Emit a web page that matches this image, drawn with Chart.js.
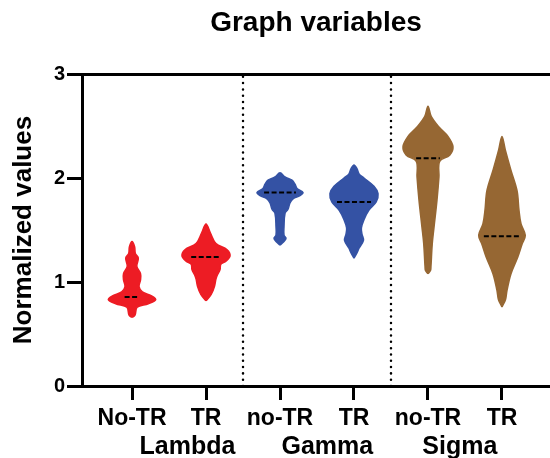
<!DOCTYPE html>
<html>
<head>
<meta charset="utf-8">
<script src="https://cdn.jsdelivr.net/npm/chart.js@4.4.1/dist/chart.umd.min.js"></script>
<style>
  html, body { margin: 0; padding: 0; background: #fff; }
</style>
</head>
<body>
<canvas id="violinChart" width="550" height="458"></canvas>
<script>
// categories and tick labels
const categories = ['No-TR', 'TR', 'no-TR', 'TR', 'no-TR', 'TR'];
const groups = ['Lambda', 'Gamma', 'Sigma'];
const yTicks = [0, 1, 2, 3];
const separators = [1.5, 3.5];

// medians (dashed lines) and their half length
const medians = [0.855, 1.24, 1.86, 1.77, 2.19, 1.44];
const medianHalf = [0.1, 0.2, 0.215, 0.23, 0.16, 0.245];

// violin profiles: value levels and half widths (in category units)
const lambdaNoLevels = [0.66, 0.68, 0.757, 0.79, 0.83, 0.865, 0.905, 0.955, 1.02, 1.08, 1.15, 1.23, 1.275, 1.34, 1.39];
const lambdaNoWidths = [0, 0.04, 0.07, 0.22, 0.32, 0.27, 0.14, 0.095, 0.115, 0.115, 0.065, 0.085, 0.045, 0.035, 0];
const lambdaTrLevels = [0.82, 0.88, 0.96, 1.03, 1.07, 1.12, 1.17, 1.20, 1.25, 1.31, 1.37, 1.47, 1.557];
const lambdaTrWidths = [0, 0.07, 0.115, 0.135, 0.155, 0.19, 0.2, 0.27, 0.325, 0.285, 0.135, 0.06, 0];
const gammaNoLevels = [1.355, 1.39, 1.42, 1.45, 1.53, 1.66, 1.70, 1.76, 1.80, 1.83, 1.86, 1.90, 1.94, 1.98, 2.01, 2.05];
const gammaNoWidths = [0, 0.054, 0.081, 0.054, 0.054, 0.068, 0.108, 0.135, 0.176, 0.27, 0.311, 0.23, 0.203, 0.162, 0.068, 0];
const gammaTrLevels = [1.23, 1.28, 1.325, 1.40, 1.46, 1.52, 1.60, 1.69, 1.77, 1.85, 1.92, 2.0, 2.04, 2.09, 2.125];
const gammaTrWidths = [0, 0.04, 0.068, 0.128, 0.108, 0.1, 0.135, 0.2, 0.3, 0.325, 0.27, 0.135, 0.068, 0.04, 0];
const sigmaNoLevels = [1.08, 1.11, 1.15, 1.37, 1.53, 1.79, 2.01, 2.16, 2.22, 2.30, 2.40, 2.49, 2.59, 2.69];
const sigmaNoWidths = [0, 0.034, 0.04, 0.058, 0.082, 0.122, 0.148, 0.158, 0.293, 0.338, 0.27, 0.149, 0.045, 0];
const sigmaTrLevels = [0.76, 0.83, 0.92, 1.08, 1.24, 1.36, 1.45, 1.56, 1.69, 1.88, 2.08, 2.27, 2.40];
const sigmaTrWidths = [0, 0.047, 0.068, 0.122, 0.214, 0.27, 0.315, 0.257, 0.23, 0.203, 0.119, 0.045, 0];

const violins = [
    [lambdaNoLevels, lambdaNoWidths],
    [lambdaTrLevels, lambdaTrWidths],
    [gammaNoLevels, gammaNoWidths],
    [gammaTrLevels, gammaTrWidths],
    [sigmaNoLevels, sigmaNoWidths],
    [sigmaTrLevels, sigmaTrWidths]
];

const groupColors = ['#ED1C24', '#3452A4', '#966733'];
const groupAt = [0.75, 2.64, 4.43];
const xMin = -0.676, xMax = 5.649;

Chart.defaults.font.family = "'Liberation Sans', Arial, Helvetica, sans-serif";
Chart.defaults.color = '#000';

function outline(center, levels, widths) {
    const right = levels.map((v, i) => ({x: center + widths[i], y: v}));
    const left = levels.map((v, i) => ({x: center - widths[i], y: v})).reverse();
    return right.concat(left.slice(1));
}

let datasets = [];

violins.forEach(([levels, widths], i) => {
    const c = groupColors[Math.floor(i / 2)];
    datasets.push({
        data: outline(i, levels, widths),
        indexAxis: 'y',
        fill: 'shape',
        backgroundColor: c,
        borderColor: c,
        borderWidth: 1.5,
        borderJoinStyle: 'round',
        pointRadius: 0,
        tension: 0.35,
        order: 2
    });
});

medians.forEach((m, i) => {
    datasets.push({
        data: [{x: i - medianHalf[i], y: m}, {x: i + medianHalf[i], y: m}],
        borderColor: '#000',
        borderWidth: 2,
        borderDash: [5, 2.5],
        pointRadius: 0,
        fill: false,
        order: 0
    });
});

separators.forEach(s => {
    datasets.push({
        data: [{x: s, y: 0}, {x: s, y: 3}],
        borderColor: '#000',
        borderWidth: 2.5,
        borderDash: [0.01, 6.3],
        borderCapStyle: 'round',
        pointRadius: 0,
        fill: false,
        order: 1
    });
});

const ctx = document.getElementById('violinChart').getContext('2d');
const chart = new Chart(ctx, {
    type: 'line',
    data: { datasets: datasets },
    options: {
        responsive: false,
        animation: false,
        events: [],
        layout: { padding: 0 },
        plugins: {
            legend: { display: false },
            tooltip: { enabled: false },
            title: {
                display: true,
                fullSize: false,
                text: 'Graph variables',
                color: '#000',
                font: { size: 28, weight: 'bold' },
                padding: { top: 6, bottom: 34.4 }
            }
        },
        scales: {
            x: {
                type: 'linear',
                min: xMin,
                max: xMax,
                afterBuildTicks: s => { s.ticks = categories.map((c, i) => ({value: i})); },
                ticks: {
                    autoSkip: false,
                    maxRotation: 0,
                    padding: 5,
                    color: '#000',
                    font: { size: 23, weight: 'bold' },
                    callback: (v, i) => categories[i]
                },
                grid: { drawOnChartArea: false, tickLength: 14, lineWidth: 3, color: '#000' },
                border: { width: 3, color: '#000' },
                afterFit: s => { s.height = 44; }
            },
            x2: {
                type: 'linear',
                position: 'bottom',
                weight: 1,
                min: xMin,
                max: xMax,
                afterBuildTicks: s => { s.ticks = groups.map((g, i) => ({value: groupAt[i]})); },
                ticks: {
                    autoSkip: false,
                    maxRotation: 0,
                    padding: 2,
                    color: '#000',
                    font: { size: 25, weight: 'bold' },
                    callback: (v, i) => groups[i]
                },
                grid: { display: false, drawTicks: false },
                border: { display: false },
                afterFit: s => { s.height = 28; }
            },
            y: {
                min: 0,
                max: 3,
                afterBuildTicks: s => { s.ticks = yTicks.map(v => ({value: v})); },
                ticks: {
                    padding: 2,
                    color: '#000',
                    font: { size: 20, weight: 'bold' }
                },
                grid: {
                    color: c => (c.tick && c.tick.value === 3) ? '#000' : 'rgba(0,0,0,0)',
                    tickColor: '#000',
                    lineWidth: 3,
                    tickLength: 15
                },
                border: { width: 3, color: '#000' },
                title: {
                    display: true,
                    text: 'Normalized values',
                    color: '#000',
                    font: { size: 26, weight: 'bold' },
                    padding: { top: 8, bottom: 0 }
                },
                afterFit: s => { s.width = 82; }
            }
        }
    }
});
</script>
</body>
</html>
